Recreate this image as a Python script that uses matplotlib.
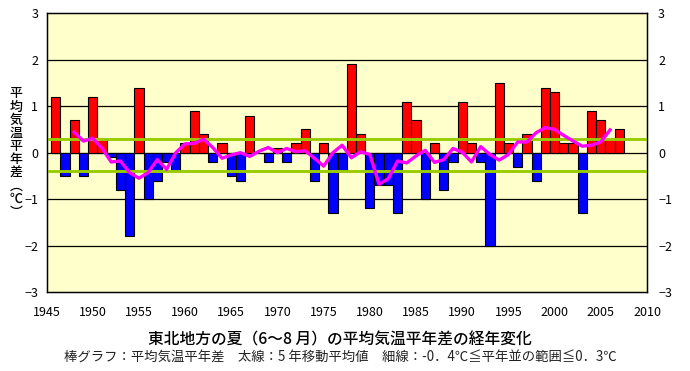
import numpy as np
import matplotlib
matplotlib.use("Agg")
import matplotlib.pyplot as plt

plt.rcParams['font.family'] = ['Noto Sans CJK JP', 'DejaVu Sans']
plt.rcParams['axes.unicode_minus'] = True

# ── Data ──────────────────────────────────────────────────────────────────────
years = list(range(1946, 2008))
anomaly = [
    1.2, -0.5, 0.7, -0.5, 1.2, 0.3, -0.1, -0.8, -1.8, 1.4,      # 1946-1955
    -1.0, -0.6, -0.2, -0.4, 0.2, 0.9, 0.4, -0.2, 0.2, -0.5,     # 1956-1965
    -0.6, 0.8, 0.0, -0.2, 0.1, -0.2, 0.2, 0.5, -0.6, 0.2,       # 1966-1975
    -1.3, -0.4, 1.9, 0.4, -1.2, -0.7, -0.7, -1.3, 1.1, 0.7,     # 1976-1985
    -1.0, 0.2, -0.8, -0.2, 1.1, 0.2, -0.2, -2.0, 1.5, 0.2,      # 1986-1995
    -0.3, 0.4, -0.6, 1.4, 1.3, 0.2, 0.2, -1.3, 0.9, 0.7,        # 1996-2005
    0.3, 0.5,                                                   # 2006-2007
]

ma_years = list(range(1948, 2007))
ma_values = [
    0.44, 0.25, 0.31, 0.10, -0.20, -0.18, -0.43, -0.55, -0.43, -0.15,   # 1948-1957
    -0.36, 0.00, 0.19, 0.20, 0.29, 0.11, -0.12, -0.05, 0.00, -0.08,     # 1958-1967
    0.03, 0.11, 0.00, 0.09, 0.02, 0.04, -0.12, -0.29, 0.00, 0.16,       # 1968-1977
    -0.11, 0.02, -0.04, -0.68, -0.56, -0.18, -0.22, -0.07, 0.05, -0.21, # 1978-1987
    -0.15, 0.09, 0.01, -0.20, 0.13, -0.04, -0.16, -0.04, 0.23, 0.23,    # 1988-1997
    0.43, 0.54, 0.50, 0.37, 0.25, 0.14, 0.16, 0.23, 0.49,               # 1998-2006
]

normal_upper = 0.3
normal_lower = -0.4

yticks = [-3, -2, -1, 0, 1, 2, 3]
xticks = list(range(1945, 2011, 5))

# ── Figure ────────────────────────────────────────────────────────────────────
fig = plt.figure(figsize=(6.9, 3.71), dpi=100)
fig.patch.set_facecolor("white")
ax = fig.add_axes([0.0674, 0.2129, 0.8703, 0.7512])
ax.set_facecolor("#ffffcc")

colors = ["#ff0000" if v > 0 else "#0000ff" for v in anomaly]
ax.bar(years, anomaly, width=1.0, color=colors, edgecolor="black",
       linewidth=0.8, zorder=3)

for yv in [-2, -1, 0, 1, 2]:
    ax.axhline(yv, color="black", linewidth=0.9, zorder=2)

ax.axhline(normal_upper, color="#99cc00", linewidth=2.1, zorder=4)
ax.axhline(normal_lower, color="#99cc00", linewidth=2.1, zorder=4)

ax.plot(ma_years, ma_values, color="#ff00ff", linewidth=2.4, zorder=5,
        solid_joinstyle="round")

ax.set_xlim(1945, 2010)
ax.set_ylim(-3, 3)
ax.set_xticks(xticks)
ax.set_yticks(yticks)
ax.tick_params(axis="both", length=0, labelsize=9, pad=6)
ax.tick_params(axis="x", pad=10)
for sp in ax.spines.values():
    sp.set_edgecolor("black")
    sp.set_linewidth(1.0)

ax2 = ax.twinx()
ax2.set_ylim(-3, 3)
ax2.set_yticks(yticks)
ax2.tick_params(axis="y", length=0, labelsize=9, pad=8)

# vertical y label
ylabel_chars = ["平", "均", "気", "温", "平", "年", "差", "︵", "℃", "︶"]
fig.text(0.023, 0.587, "\n".join(ylabel_chars), fontsize=9.3, ha="center",
         va="center", linespacing=1.02, fontweight="medium")

fig.text(0.493, 0.083, "東北地方の夏（6～8 月）の平均気温平年差の経年変化",
         fontsize=11.3, ha="center", va="center", fontweight="medium")
fig.text(0.494, 0.035,
         "棒グラフ：平均気温平年差　太線：5 年移動平均値　細線：-0．4℃≦平年並の範囲≦0．3℃",
         fontsize=9.6, ha="center", va="center", color="#222222")

fig.savefig("out.png", dpi=100)
